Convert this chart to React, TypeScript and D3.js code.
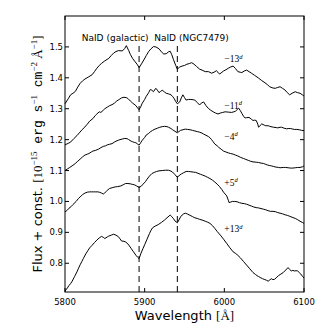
import * as d3 from "d3";
import React from "react";

// axis ticks
const wlTicks = [5800, 5900, 6000, 6100];
const fluxTicks = [0.8, 0.9, 1.0, 1.1, 1.2, 1.3, 1.4, 1.5];

// NaD positions (galactic, host) and their labels
const naLines = [5893, 5941];
const naLabels = ["NaID (galactic)", "NaID (NGC7479)"];
const naLabelX = [5821, 5912];
const naLabelY = 1.52;

// epoch labels (days from max), placed at 6000 A
const epochs = ["\u221213", "\u221211", "\u22124", "+5", "+13"];
const epochY = [1.45, 1.3, 1.2, 1.05, 0.9];

// spectra, [wavelength, flux + const]
const specM13: [number, number][] = [
  [5800, 1.316], [5804, 1.332], [5807, 1.345], [5810, 1.35], [5813, 1.356], [5816, 1.37],
  [5819, 1.382], [5822, 1.39], [5825, 1.396], [5829, 1.402], [5834, 1.41], [5837, 1.42],
  [5840, 1.431], [5843, 1.44], [5846, 1.447], [5850, 1.455], [5855, 1.463], [5858, 1.472],
  [5861, 1.48], [5864, 1.485], [5867, 1.488], [5872, 1.487], [5875, 1.495], [5877, 1.504],
  [5880, 1.488], [5882, 1.476], [5885, 1.462], [5888, 1.452], [5891, 1.442], [5893, 1.433],
  [5896, 1.445], [5899, 1.458], [5902, 1.472], [5905, 1.485], [5908, 1.494], [5911, 1.501],
  [5914, 1.5], [5918, 1.494], [5921, 1.484], [5924, 1.477], [5927, 1.478], [5930, 1.484],
  [5932, 1.486], [5934, 1.475], [5936, 1.46], [5939, 1.44], [5941, 1.428], [5944, 1.435],
  [5947, 1.438], [5950, 1.44], [5953, 1.444], [5956, 1.446], [5959, 1.449], [5962, 1.444],
  [5965, 1.437], [5969, 1.428], [5972, 1.425], [5976, 1.42], [5980, 1.42], [5984, 1.415],
  [5987, 1.418], [5990, 1.423], [5992, 1.418], [5994, 1.412], [5997, 1.418], [5999, 1.422],
  [6002, 1.426], [6005, 1.431], [6008, 1.435], [6011, 1.438], [6014, 1.43], [6017, 1.42],
  [6020, 1.418], [6022, 1.417], [6025, 1.422], [6028, 1.425], [6031, 1.42], [6034, 1.415],
  [6038, 1.408], [6043, 1.399], [6047, 1.391], [6051, 1.384], [6054, 1.378], [6057, 1.371],
  [6061, 1.367], [6064, 1.366], [6067, 1.369], [6070, 1.371], [6073, 1.366], [6076, 1.361],
  [6079, 1.352], [6082, 1.345], [6085, 1.35], [6089, 1.355], [6092, 1.352], [6095, 1.35],
  [6098, 1.345], [6100, 1.341],
];

const specM11: [number, number][] = [
  [5800, 1.183], [5804, 1.188], [5807, 1.192], [5811, 1.203], [5815, 1.213], [5818, 1.222],
  [5821, 1.231], [5825, 1.241], [5828, 1.25], [5831, 1.26], [5835, 1.268], [5838, 1.278],
  [5840, 1.283], [5843, 1.29], [5845, 1.288], [5848, 1.295], [5850, 1.3], [5853, 1.305],
  [5856, 1.31], [5859, 1.313], [5862, 1.318], [5865, 1.325], [5868, 1.33], [5871, 1.335],
  [5874, 1.337], [5877, 1.336], [5879, 1.333], [5882, 1.325], [5885, 1.318], [5889, 1.31],
  [5891, 1.303], [5893, 1.297], [5895, 1.306], [5897, 1.318], [5900, 1.33], [5902, 1.34],
  [5905, 1.352], [5907, 1.362], [5909, 1.36], [5911, 1.355], [5914, 1.366], [5916, 1.36],
  [5918, 1.352], [5920, 1.356], [5922, 1.36], [5925, 1.354], [5927, 1.35], [5930, 1.348],
  [5933, 1.345], [5935, 1.34], [5937, 1.333], [5939, 1.323], [5941, 1.316], [5944, 1.322],
  [5946, 1.335], [5948, 1.345], [5950, 1.336], [5952, 1.328], [5955, 1.33], [5958, 1.33],
  [5961, 1.329], [5963, 1.328], [5966, 1.32], [5969, 1.312], [5971, 1.318], [5974, 1.322],
  [5977, 1.31], [5980, 1.301], [5983, 1.295], [5986, 1.29], [5989, 1.286], [5992, 1.283],
  [5995, 1.286], [5998, 1.288], [6001, 1.29], [6005, 1.289], [6009, 1.288], [6012, 1.29],
  [6014, 1.292], [6016, 1.297], [6018, 1.302], [6020, 1.294], [6022, 1.285], [6024, 1.276],
  [6026, 1.27], [6028, 1.271], [6031, 1.272], [6034, 1.266], [6036, 1.262], [6038, 1.263],
  [6040, 1.262], [6042, 1.25], [6043, 1.24], [6045, 1.246], [6047, 1.251], [6050, 1.247],
  [6052, 1.245], [6055, 1.245], [6057, 1.243], [6060, 1.241], [6062, 1.24], [6065, 1.239],
  [6067, 1.238], [6070, 1.24], [6072, 1.24], [6075, 1.237], [6078, 1.235], [6081, 1.236],
  [6083, 1.236], [6086, 1.234], [6088, 1.233], [6091, 1.233], [6094, 1.232], [6097, 1.23],
  [6100, 1.229],
];

const specM4: [number, number][] = [
  [5800, 1.1], [5803, 1.105], [5806, 1.11], [5810, 1.117], [5813, 1.123], [5816, 1.13],
  [5819, 1.137], [5822, 1.144], [5825, 1.15], [5828, 1.153], [5830, 1.155], [5833, 1.16],
  [5835, 1.163], [5838, 1.165], [5842, 1.169], [5845, 1.174], [5848, 1.178], [5851, 1.18],
  [5853, 1.183], [5856, 1.185], [5859, 1.187], [5862, 1.192], [5864, 1.195], [5867, 1.198],
  [5869, 1.2], [5872, 1.202], [5875, 1.204], [5878, 1.203], [5880, 1.2], [5883, 1.195],
  [5885, 1.193], [5887, 1.191], [5889, 1.19], [5891, 1.186], [5893, 1.182], [5895, 1.19],
  [5897, 1.198], [5900, 1.207], [5902, 1.215], [5905, 1.22], [5907, 1.225], [5910, 1.23],
  [5913, 1.234], [5916, 1.237], [5919, 1.24], [5922, 1.242], [5925, 1.243], [5928, 1.242],
  [5930, 1.24], [5933, 1.236], [5935, 1.232], [5938, 1.227], [5941, 1.222], [5943, 1.226],
  [5945, 1.23], [5948, 1.232], [5951, 1.234], [5954, 1.233], [5957, 1.232], [5960, 1.23],
  [5963, 1.228], [5966, 1.226], [5969, 1.224], [5972, 1.221], [5974, 1.218], [5977, 1.214],
  [5980, 1.21], [5982, 1.206], [5984, 1.2], [5986, 1.193], [5988, 1.186], [5991, 1.18],
  [5993, 1.175], [5996, 1.169], [5999, 1.163], [6002, 1.16], [6005, 1.157], [6008, 1.155],
  [6011, 1.153], [6014, 1.15], [6017, 1.147], [6020, 1.143], [6024, 1.139], [6027, 1.136],
  [6030, 1.133], [6033, 1.13], [6036, 1.128], [6040, 1.127], [6043, 1.126], [6046, 1.124],
  [6049, 1.123], [6052, 1.12], [6054, 1.118], [6057, 1.116], [6059, 1.115], [6062, 1.113],
  [6065, 1.111], [6068, 1.11], [6070, 1.109], [6074, 1.11], [6077, 1.11], [6080, 1.109],
  [6083, 1.108], [6086, 1.108], [6089, 1.109], [6092, 1.11], [6095, 1.11], [6098, 1.112],
  [6100, 1.115],
];

const specP5: [number, number][] = [
  [5800, 0.966], [5803, 0.972], [5805, 0.978], [5808, 0.984], [5810, 0.99], [5814, 1.0],
  [5817, 1.01], [5820, 1.017], [5822, 1.022], [5825, 1.027], [5828, 1.03], [5831, 1.031],
  [5833, 1.031], [5836, 1.031], [5838, 1.031], [5841, 1.031], [5843, 1.03], [5846, 1.027],
  [5848, 1.024], [5850, 1.028], [5852, 1.033], [5854, 1.038], [5856, 1.042], [5860, 1.045],
  [5863, 1.047], [5866, 1.048], [5870, 1.05], [5873, 1.054], [5876, 1.058], [5879, 1.058],
  [5882, 1.057], [5885, 1.055], [5887, 1.054], [5890, 1.05], [5893, 1.045], [5896, 1.05],
  [5898, 1.056], [5901, 1.064], [5903, 1.072], [5906, 1.082], [5909, 1.09], [5912, 1.094],
  [5915, 1.097], [5918, 1.099], [5922, 1.1], [5926, 1.101], [5930, 1.101], [5933, 1.098],
  [5935, 1.095], [5938, 1.087], [5941, 1.078], [5943, 1.083], [5946, 1.089], [5949, 1.093],
  [5952, 1.097], [5955, 1.097], [5958, 1.096], [5961, 1.095], [5964, 1.094], [5967, 1.091],
  [5970, 1.088], [5973, 1.085], [5976, 1.082], [5979, 1.078], [5982, 1.074], [5985, 1.069],
  [5988, 1.063], [5991, 1.056], [5994, 1.048], [5997, 1.038], [5999, 1.03], [6001, 1.024],
  [6003, 1.018], [6005, 1.004], [6006, 0.996], [6008, 0.998], [6010, 1.0], [6013, 1.0],
  [6016, 0.999], [6019, 0.996], [6022, 0.994], [6025, 0.993], [6028, 0.991], [6031, 0.988],
  [6034, 0.985], [6037, 0.982], [6040, 0.98], [6043, 0.979], [6046, 0.977], [6049, 0.975],
  [6052, 0.973], [6055, 0.97], [6058, 0.968], [6061, 0.968], [6064, 0.967], [6067, 0.964],
  [6070, 0.962], [6073, 0.96], [6076, 0.957], [6079, 0.955], [6082, 0.952], [6085, 0.949],
  [6089, 0.945], [6092, 0.941], [6095, 0.936], [6098, 0.932], [6100, 0.929],
];

const specP13: [number, number][] = [
  [5800, 0.71], [5803, 0.72], [5805, 0.728], [5807, 0.734], [5809, 0.742], [5812, 0.757],
  [5815, 0.772], [5817, 0.784], [5819, 0.795], [5821, 0.805], [5823, 0.815], [5826, 0.83],
  [5829, 0.842], [5831, 0.85], [5834, 0.858], [5837, 0.867], [5840, 0.875], [5843, 0.882],
  [5846, 0.887], [5848, 0.884], [5850, 0.88], [5853, 0.885], [5855, 0.888], [5858, 0.891],
  [5861, 0.894], [5864, 0.891], [5867, 0.886], [5869, 0.879], [5871, 0.872], [5874, 0.871],
  [5876, 0.869], [5878, 0.865], [5880, 0.859], [5883, 0.848], [5886, 0.837], [5889, 0.826],
  [5891, 0.82], [5893, 0.815], [5895, 0.83], [5898, 0.848], [5900, 0.86], [5903, 0.878],
  [5906, 0.896], [5908, 0.907], [5910, 0.915], [5913, 0.92], [5917, 0.925], [5921, 0.932],
  [5925, 0.94], [5928, 0.947], [5932, 0.956], [5934, 0.951], [5936, 0.945], [5938, 0.937],
  [5941, 0.931], [5943, 0.94], [5945, 0.95], [5947, 0.956], [5949, 0.96], [5951, 0.962],
  [5954, 0.959], [5957, 0.955], [5960, 0.951], [5963, 0.947], [5966, 0.945], [5969, 0.942],
  [5972, 0.94], [5976, 0.936], [5979, 0.933], [5982, 0.929], [5985, 0.922], [5988, 0.913],
  [5991, 0.903], [5995, 0.891], [5999, 0.878], [6003, 0.864], [6007, 0.85], [6011, 0.837],
  [6014, 0.832], [6016, 0.828], [6020, 0.818], [6024, 0.806], [6028, 0.794], [6032, 0.782],
  [6036, 0.77], [6039, 0.764], [6041, 0.76], [6043, 0.757], [6045, 0.754], [6048, 0.75],
  [6050, 0.748], [6053, 0.745], [6055, 0.742], [6057, 0.746], [6059, 0.75], [6061, 0.747],
  [6063, 0.748], [6066, 0.755], [6068, 0.76], [6071, 0.765], [6074, 0.77], [6077, 0.778],
  [6080, 0.786], [6082, 0.78], [6084, 0.775], [6086, 0.777], [6088, 0.775], [6090, 0.776],
  [6092, 0.775], [6094, 0.77], [6096, 0.765], [6098, 0.758], [6100, 0.752],
];

const spectra = [specM13, specM11, specM4, specP5, specP13];

const W = 327;
const H = 327;
const margin = { top: 16, right: 23, bottom: 35, left: 65 };

const App = () => {
  const iw = W - margin.left - margin.right;
  const ih = H - margin.top - margin.bottom;

  const x = d3.scaleLinear().domain([5800, 6100]).range([0, iw]);
  const y = d3.scaleLinear().domain([0.707, 1.6]).range([ih, 0]);

  const line = d3
    .line<[number, number]>()
    .x((d) => x(d[0]))
    .y((d) => y(d[1]));

  const fmt = d3.format(".1f");
  const sans = "DejaVu Sans";
  const serif = "Liberation Serif";
  const mono = "Liberation Mono";

  return (
    <svg
      width={W}
      height={H}
      style={{ position: "absolute", left: 0, top: 0, background: "#fff" }}>
      <g transform={`translate(${margin.left},${margin.top})`}>
        {/* spectra */}
        {spectra.map((s, i) => (
          <path key={i} d={line(s) || ""} fill="none" stroke="#000" strokeWidth={1} />
        ))}

        {/* NaD lines */}
        {naLines.map((w) => (
          <line
            key={w}
            x1={x(w)}
            x2={x(w)}
            y1={ih}
            y2={y(1.505)}
            stroke="#000"
            strokeWidth={1}
            strokeDasharray="6,4"
          />
        ))}
        {naLabels.map((t, i) => (
          <text key={t} x={x(naLabelX[i])} y={y(naLabelY)} fontFamily={sans} fontSize={9}>
            {t}
          </text>
        ))}

        {/* epoch labels (grey AA via slight opacity) */}
        <g opacity={0.999}>
          {epochs.map((t, i) => (
            <text
              key={t}
              x={x(6000)}
              y={y(epochY[i])}
              fill="#000"
              fontFamily={serif}
              fontSize={9.5}>
              {t}
              <tspan dy={-3.5} fontSize={6.5} fontStyle="italic">
                d
              </tspan>
            </text>
          ))}
        </g>

        {/* frame */}
        <rect x={0} y={0} width={iw} height={ih} fill="none" stroke="#000" strokeWidth={1} />

        {/* x ticks, inside on both sides */}
        {wlTicks.map((t) => (
          <g key={t}>
            <line x1={x(t)} x2={x(t)} y1={ih} y2={ih - 4} stroke="#000" />
            <line x1={x(t)} x2={x(t)} y1={0} y2={4} stroke="#000" />
            <text
              x={x(t)}
              y={ih + 13}
              textAnchor="middle"
              fontFamily={sans}
              fontSize={8.5}>
              {t}
            </text>
          </g>
        ))}

        {/* y ticks */}
        {fluxTicks.map((t) => (
          <g key={t}>
            <line x1={0} x2={4} y1={y(t)} y2={y(t)} stroke="#000" />
            <line x1={iw} x2={iw - 4} y1={y(t)} y2={y(t)} stroke="#000" />
            <text
              x={-2}
              y={y(t)}
              dy="0.35em"
              textAnchor="end"
              fontFamily={sans}
              fontSize={8.5}>
              {fmt(t)}
            </text>
          </g>
        ))}

        {/* x label */}
        <text x={iw / 2} y={ih + 28} textAnchor="middle" fontSize={13} fontFamily={sans}>
          Wavelength <tspan fontFamily={serif}>[Å]</tspan>
        </text>

        {/* y label */}
        <text
          transform={`translate(${-23},${ih / 2}) rotate(-90)`}
          textAnchor="middle"
          fontSize={13}
          fontFamily={sans}>
          Flux + const.{" "}
          <tspan fontFamily={serif}>[10</tspan>
          <tspan fontFamily={serif} fontSize={9} dy={-5}>
            −15
          </tspan>
          <tspan fontFamily={mono} dy={5}>
            {" "}erg s
          </tspan>
          <tspan fontFamily={serif} fontSize={9} dy={-5}>
            −1
          </tspan>
          <tspan fontFamily={mono} dy={5}>
            {" "}cm
          </tspan>
          <tspan fontFamily={serif} fontSize={9} dy={-5}>
            −2
          </tspan>
          <tspan fontFamily={serif} dy={5}>
            {" "}Å
          </tspan>
          <tspan fontFamily={serif} fontSize={9} dy={-5}>
            −1
          </tspan>
          <tspan fontFamily={serif} dy={5}>
            ]
          </tspan>
        </text>
      </g>
    </svg>
  );
};

export default App;
